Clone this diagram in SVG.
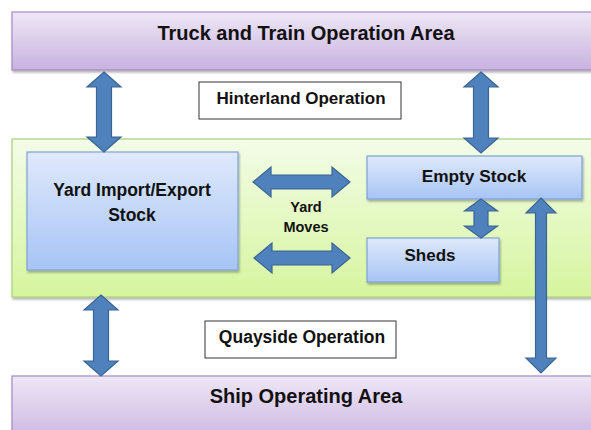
<svg xmlns="http://www.w3.org/2000/svg" width="591" height="430" viewBox="0 0 591 430">
<defs>
<linearGradient id="gPurple" x1="0" y1="0" x2="0" y2="1"><stop offset="0" stop-color="#efe7f6"/><stop offset="1" stop-color="#c8b2e0"/></linearGradient>
<linearGradient id="gGreen" x1="0" y1="0" x2="0" y2="1"><stop offset="0" stop-color="#f3fce8"/><stop offset="1" stop-color="#d6f59e"/></linearGradient>
<linearGradient id="gBlue" x1="0" y1="0" x2="0" y2="1"><stop offset="0" stop-color="#dfe9fb"/><stop offset="1" stop-color="#a7c4f5"/></linearGradient>
<filter id="sh" x="-5%" y="-5%" width="110%" height="115%"><feDropShadow dx="1" dy="2" stdDeviation="1.2" flood-color="#000" flood-opacity="0.3"/></filter>
</defs>
<style>
text{font-family:"Liberation Sans",Arial,sans-serif;font-weight:bold;fill:#111;text-anchor:middle}
.purple{fill:url(#gPurple);stroke:#a28bc3;stroke-width:1.2}
.green{fill:url(#gGreen);stroke:#a9cf7c;stroke-width:1.2}
.blue{fill:url(#gBlue);stroke:#7ea3d5;stroke-width:1.2}
.label{fill:#fff;stroke:#333;stroke-width:1}
.arr{fill:#4f81bd;stroke:#3a6594;stroke-width:1.2}
</style>
<g id="truck-train-area"><rect class="purple" x="12" y="12" width="590" height="58" filter="url(#sh)"/><text x="306" y="40" font-size="20">Truck and Train Operation Area</text></g>
<g id="hinterland-operation"><rect class="label" x="199" y="82" width="202" height="37"/><text x="301" y="104" font-size="17">Hinterland Operation</text></g>
<g id="yard-area"><rect class="green" x="12" y="139" width="590" height="158" filter="url(#sh)"/></g>
<g id="yard-import-export"><rect class="blue" x="27" y="152" width="211" height="118" filter="url(#sh)"/><text x="132" y="196" font-size="17.5">Yard Import/Export</text><text x="132" y="221" font-size="17.5">Stock</text></g>
<g id="empty-stock"><rect class="blue" x="367" y="156" width="215" height="43" filter="url(#sh)"/><text x="474" y="182" font-size="17.3">Empty Stock</text></g>
<g id="sheds"><rect class="blue" x="367" y="238" width="132" height="44" filter="url(#sh)"/><text x="430" y="261" font-size="17">Sheds</text></g>
<g id="yard-moves"><text x="306" y="212" font-size="14.5">Yard</text><text x="306" y="232" font-size="14.5">Moves</text></g>
<g id="quayside-operation"><rect class="label" x="205" y="321" width="191" height="37"/><text x="302" y="343" font-size="17.5">Quayside Operation</text></g>
<g id="ship-area"><rect class="purple" x="12" y="376" width="590" height="70" filter="url(#sh)"/><text x="306" y="403" font-size="20">Ship Operating Area</text></g>
<g id="connectors">
<path class="arr" d="M104,72 L121,87 L111.5,87 L111.5,137 L121,137 L104,152 L87,137 L96.5,137 L96.5,87 L87,87 Z"/>
<path class="arr" d="M481,72 L498,87 L488.5,87 L488.5,138 L498,138 L481,153 L464,138 L473.5,138 L473.5,87 L464,87 Z"/>
<path class="arr" d="M253,182 L271,167 L271,175 L332,175 L332,167 L350,182 L332,197 L332,189 L271,189 L271,197 Z"/>
<path class="arr" d="M254,258 L272,243 L272,251 L332,251 L332,243 L350,258 L332,273 L332,265 L272,265 L272,273 Z"/>
<path class="arr" d="M481,199 L497.5,211 L488,211 L488,226 L497.5,226 L481,238 L464.5,226 L474,226 L474,211 L464.5,211 Z"/>
<path class="arr" d="M541,198 L556,213 L546.5,213 L546.5,358 L556,358 L541,373 L526,358 L535.5,358 L535.5,213 L526,213 Z"/>
<path class="arr" d="M101,295 L118,310 L108.5,310 L108.5,361 L118,361 L101,376 L84,361 L93.5,361 L93.5,310 L84,310 Z"/>
</g>
</svg>
